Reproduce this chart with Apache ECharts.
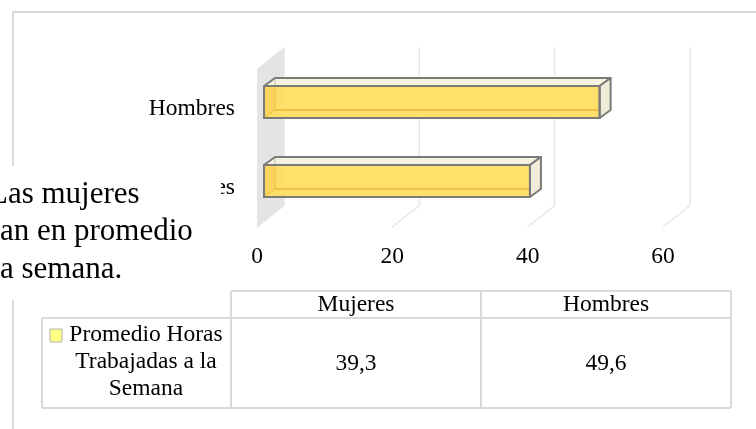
<!DOCTYPE html>
<html>
<head>
<meta charset="utf-8">
<script src="https://cdn.jsdelivr.net/npm/echarts@6/dist/echarts.min.js"></script>
<style>
html,body{margin:0;padding:0;background:#fff;}
#chart{width:756px;height:429px;}
</style>
</head>
<body>
<div id="chart"></div>
<script>
// ---- data ----
const categories = ['Mujeres', 'Hombres'];
const hours = [39.3, 49.6];
const xTicks = [0, 20, 40, 60];
const seriesNameLines = ['Promedio Horas', 'Trabajadas a la', 'Semana'];
const overlayLines = ['Las mujeres', 'an en promedio', 'a semana.'];

const FONT = "'Liberation Serif','Times New Roman',serif";
const FS = 23.5;
const DEPTH = [27, -21.5];      // wall depth vector
const BAR_FRONT = [7, -6.5];    // bar front plane offset
const BAR_DEPTH = [11, -8];     // bar depth

const chart = echarts.init(document.getElementById('chart'), null, {renderer: 'canvas'});

function fmt(v) { return v.toFixed(1).replace('.', ','); }

// table geometry
const tL = 42, tC1 = 231, tC2 = 481, tR = 731;
const tTop = 291, tMid = 318, tBot = 408;
const tableLine = {stroke: '#d9d9d9', lineWidth: 2};
const graphics = [];
// outer chart border
graphics.push({type: 'rect', shape: {x: 13, y: 12, width: 800, height: 500}, style: {fill: null, stroke: '#d9d9d9', lineWidth: 2}, z: 1, silent: true});
// table lines
[[tC1, tTop, tR, tTop], [tL, tMid, tR, tMid], [tL, tBot, tR, tBot],
 [tL, tMid, tL, tBot], [tC1, tTop, tC1, tBot], [tC2, tTop, tC2, tBot], [tR, tTop, tR, tBot]]
  .forEach(l => graphics.push({type: 'line', shape: {x1: l[0], y1: l[1], x2: l[2], y2: l[3]}, style: tableLine, z: 5}));
const colCenters = [(tC1 + tC2) / 2, (tC2 + tR) / 2];
categories.forEach((c, i) => {
  graphics.push({type: 'text', x: colCenters[i], y: 305, style: {text: c, font: FS + 'px ' + FONT, fill: '#000', align: 'center', verticalAlign: 'middle'}, z: 6});
  graphics.push({type: 'text', x: colCenters[i], y: 364, style: {text: fmt(hours[i]), font: FS + 'px ' + FONT, fill: '#000', align: 'center', verticalAlign: 'middle'}, z: 6});
});
seriesNameLines.forEach((t, i) => {
  graphics.push({type: 'text', x: 146, y: 335 + i * 27, style: {text: t, font: FS + 'px ' + FONT, fill: '#000', align: 'center', verticalAlign: 'middle'}, z: 6});
});
graphics.push({type: 'rect', shape: {x: 50, y: 329, width: 12, height: 13}, style: {fill: '#ffff80', stroke: '#b0b0b0', lineWidth: 1}, z: 6});
// overlay text box
graphics.push({type: 'rect', shape: {x: 0, y: 166, width: 221, height: 134}, style: {fill: '#fff'}, z: 50});
const overlayX = [-11, 0, 0];
const overlayY = [195, 232, 270];
overlayLines.forEach((t, i) => {
  graphics.push({type: 'text', x: overlayX[i], y: overlayY[i], style: {text: t, font: '31px ' + FONT, fill: '#000', align: 'left', verticalAlign: 'middle'}, z: 51});
});

const option = {
  animation: false,
  backgroundColor: '#fff',
  grid: {left: 257, right: 93, top: 69, bottom: 202},
  xAxis: {
    type: 'value', min: 0, max: 60, interval: 20,
    axisLine: {show: false}, axisTick: {show: false}, splitLine: {show: false},
    axisLabel: {fontFamily: FONT, fontSize: FS, color: '#000', margin: 18}
  },
  yAxis: {
    type: 'category', data: categories,
    axisLine: {show: false}, axisTick: {show: false}, splitLine: {show: false},
    axisLabel: {fontFamily: FONT, fontSize: FS, color: '#000', margin: 22}
  },
  graphic: graphics,
  series: [
    { // back wall
      type: 'custom', z: 1, silent: true,
      data: [[0, 0]], encode: {x: 0, y: 1},
      renderItem: function (params, api) {
        const cs = params.coordSys;
        const x = api.coord([api.value(0), 0])[0];
        const yt = cs.y, yb = cs.y + cs.height;
        return {type: 'polygon', shape: {points: [[x, yt], [x + DEPTH[0], yt + DEPTH[1]], [x + DEPTH[0], yb + DEPTH[1]], [x, yb]]}, style: {fill: '#e4e4e4'}};
      }
    },
    { // gridlines on back wall and floor
      type: 'custom', z: 2, silent: true,
      data: xTicks.map(v => [v, 0]), encode: {x: 0, y: 1},
      renderItem: function (params, api) {
        const cs = params.coordSys;
        const x = api.coord([api.value(0), 0])[0];
        const yt = cs.y, yb = cs.y + cs.height;
        const bx = x + DEPTH[0];
        return {type: 'group', children: [
          {type: 'line', shape: {x1: bx, y1: yt + DEPTH[1], x2: bx, y2: yb + DEPTH[1]}, style: {stroke: '#e6e6e6', lineWidth: 1.5}},
          {type: 'line', shape: {x1: bx, y1: yb + DEPTH[1], x2: x, y2: yb}, style: {stroke: '#e6e6e6', lineWidth: 1.5}}
        ]};
      }
    },
    { // 3D bars
      name: seriesNameLines.join(' '),
      type: 'custom', z: 3,
      data: hours.map((v, i) => [v, i]), encode: {x: 0, y: 1},
      renderItem: function (params, api) {
        const v = api.value(0), c = api.value(1);
        const p0 = api.coord([0, c]), p1 = api.coord([v, c]);
        const band = api.size([0, 1])[1];
        const h = band * 0.405;
        const fx0 = p0[0] + BAR_FRONT[0], fx1 = p1[0] + BAR_FRONT[0];
        const fyc = p0[1] + BAR_FRONT[1];
        const fy0 = fyc - h / 2, fy1 = fyc + h / 2;
        const dx = BAR_DEPTH[0], dy = BAR_DEPTH[1];
        const edge = '#7a7a7a';
        return {type: 'group', children: [
          {type: 'rect', shape: {x: fx0, y: fy0, width: fx1 - fx0, height: h}, style: {fill: 'rgba(255,222,96,0.93)'}},
          {type: 'polygon', shape: {points: [[fx0, fy0], [fx0 + dx, fy0 + dy], [fx0 + dx, fy1 + dy], [fx0, fy1]]}, style: {fill: 'rgba(240,180,40,0.22)'}},
          {type: 'line', shape: {x1: fx0 + dx, y1: fy1 + dy, x2: fx1, y2: fy1 + dy}, style: {stroke: '#e8b93a', lineWidth: 1.5}},
          {type: 'line', shape: {x1: fx0 + dx, y1: fy0, x2: fx0 + dx, y2: fy1 + dy}, style: {stroke: 'rgba(230,175,50,0.6)', lineWidth: 1}},
          {type: 'line', shape: {x1: fx0, y1: fy1, x2: fx0 + dx, y2: fy1 + dy}, style: {stroke: 'rgba(230,175,50,0.6)', lineWidth: 1}},
          {type: 'polygon', shape: {points: [[fx0, fy0], [fx0 + dx, fy0 + dy], [fx1 + dx, fy0 + dy], [fx1, fy0]]}, style: {fill: '#f6f1df', stroke: edge, lineWidth: 2, lineJoin: 'round'}},
          {type: 'line', shape: {x1: fx0 + dx, y1: fy0 + dy, x2: fx0 + dx, y2: fy0}, style: {stroke: 'rgba(128,128,128,0.45)', lineWidth: 1}},
          {type: 'polygon', shape: {points: [[fx1, fy0], [fx1 + dx, fy0 + dy], [fx1 + dx, fy1 + dy], [fx1, fy1]]}, style: {fill: '#f1ecd9', stroke: edge, lineWidth: 2, lineJoin: 'round'}},
          {type: 'rect', shape: {x: fx0, y: fy0, width: fx1 - fx0, height: h}, style: {fill: null, stroke: edge, lineWidth: 2}}
        ]};
      }
    }
  ]
};
chart.setOption(option);
</script>
</body>
</html>
